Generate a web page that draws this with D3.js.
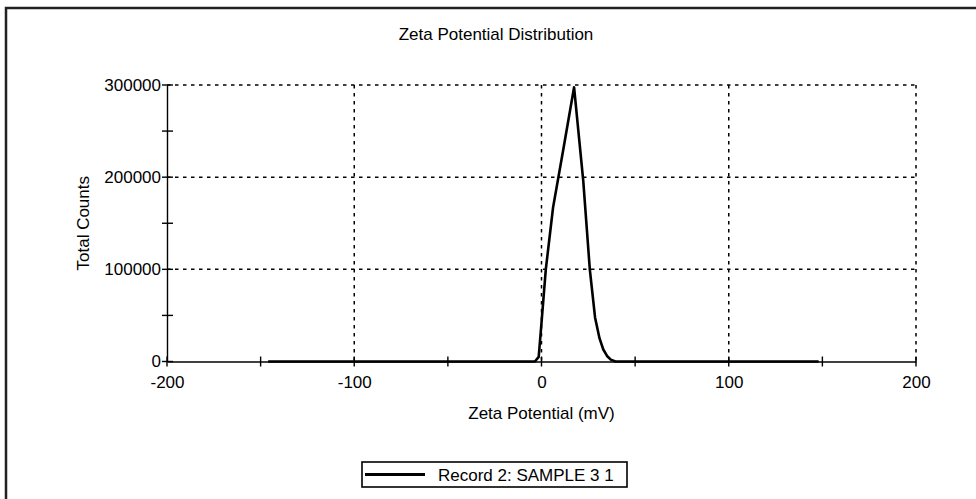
<!DOCTYPE html>
<html>
<head>
<meta charset="utf-8">
<script src="https://cdn.jsdelivr.net/npm/d3@7"></script>
<style>
  body { margin: 0; background: #fff; }
  svg text { font-family: "Liberation Sans", Arial, sans-serif; fill: #000; }
</style>
</head>
<body>
<svg id="chart" width="976" height="499"></svg>
<script>
var title = 'Zeta Potential Distribution';
var xTitle = 'Zeta Potential (mV)';
var yTitle = 'Total Counts';
var seriesName = 'Record 2: SAMPLE 3 1';

var xMajor = [-200, -100, 0, 100, 200];
var xMinor = [-150, -50, 50, 150];
var yMajor = [0, 100000, 200000, 300000];
var yMinor = [50000, 150000, 250000];

// zeta potential (mV) and total counts
var zeta = [-146, -10, -3.5, -1.5, 0, 2.3, 6.2, 11.8, 17.4, 22.3, 25.8, 28.6, 31, 33, 35, 37, 39.5, 60, 148];
var counts = [0, 0, 0, 5000, 42000, 100000, 167400, 232000, 297500, 196000, 100000, 47800, 25000, 13000, 6000, 2000, 0, 0, 0];

(function() {
var svg = d3.select('#chart');
var left = 167, right = 916, top = 85, bottom = 361.5;

var x = d3.scaleLinear().domain([-200, 200]).range([left, right]);
var y = d3.scaleLinear().domain([0, 300000]).range([bottom, top]);

// plain hyphen for negatives, as in the original
var plain = function(d) { return String(d); };

// outer frame, runs off the right and bottom of the picture
svg.append('rect')
    .attr('x', 6).attr('y', 8)
    .attr('width', 1000).attr('height', 520)
    .attr('fill', 'none')
    .attr('stroke', '#222')
    .attr('stroke-width', 2.5);

svg.append('text')
    .attr('x', 496).attr('y', 40)
    .attr('text-anchor', 'middle')
    .style('font-size', '17px')
    .text(title);

// dotted grid
var grid = svg.append('g')
    .attr('stroke', '#000')
    .attr('stroke-width', 1.5)
    .attr('stroke-dasharray', '3.5,4.5');
grid.selectAll('line.h')
    .data(yMajor.filter(function(d) { return d > 0; }))
    .enter().append('line')
    .attr('x1', left).attr('x2', right)
    .attr('y1', function(d) { return y(d); })
    .attr('y2', function(d) { return y(d); });
grid.selectAll('line.v')
    .data(xMajor.filter(function(d) { return d > -200; }))
    .enter().append('line')
    .attr('y1', top).attr('y2', bottom)
    .attr('x1', function(d) { return x(d); })
    .attr('x2', function(d) { return x(d); });

// axes
var xAxis = d3.axisBottom(x).tickValues(xMajor).tickSize(0).tickPadding(14)
    .tickFormat(plain);
var gx = svg.append('g').attr('transform', 'translate(0,' + bottom + ')').call(xAxis);
gx.select('.domain').attr('stroke', '#000').attr('stroke-width', 1.4);
gx.selectAll('text').style('font-size', '17px').style('font-family', '"Liberation Sans", Arial, sans-serif');

var yAxis = d3.axisLeft(y).tickValues(yMajor).tickSize(0).tickPadding(6)
    .tickFormat(plain);
var gy = svg.append('g').attr('transform', 'translate(' + left + ',0)').call(yAxis);
gy.select('.domain').attr('stroke', '#000').attr('stroke-width', 1.4);
gy.selectAll('text').style('font-size', '17px').style('font-family', '"Liberation Sans", Arial, sans-serif');

// crossing tick marks
var ticks = svg.append('g').attr('stroke', '#000').attr('stroke-width', 1.4);
ticks.selectAll('line.xt')
    .data(xMajor.concat(xMinor))
    .enter().append('line')
    .attr('x1', function(d) { return x(d); })
    .attr('x2', function(d) { return x(d); })
    .attr('y1', bottom - 5).attr('y2', bottom + 5);
ticks.selectAll('line.yt')
    .data(yMajor.concat(yMinor))
    .enter().append('line')
    .attr('y1', function(d) { return y(d); })
    .attr('y2', function(d) { return y(d); })
    .attr('x1', left - 5).attr('x2', left + 6);

svg.append('text')
    .attr('x', x(0)).attr('y', 419)
    .attr('text-anchor', 'middle')
    .style('font-size', '17px')
    .text(xTitle);

svg.append('text')
    .attr('transform', 'translate(89,' + (top + bottom) / 2 + ') rotate(-90)')
    .attr('text-anchor', 'middle')
    .style('font-size', '17px')
    .text(yTitle);

// the record
var points = zeta.map(function(d, i) { return [d, counts[i]]; });
var line = d3.line()
    .x(function(d) { return x(d[0]); })
    .y(function(d) { return y(d[1]); });
svg.append('path')
    .datum(points)
    .attr('d', line)
    .attr('fill', 'none')
    .attr('stroke', '#000')
    .attr('stroke-width', 2.6)
    .attr('stroke-linejoin', 'round');

// legend
var legend = svg.append('g').attr('transform', 'translate(362,462)');
legend.append('rect')
    .attr('width', 265).attr('height', 25)
    .attr('fill', '#fff')
    .attr('stroke', '#000')
    .attr('stroke-width', 1.6);
legend.append('line')
    .attr('x1', 3).attr('x2', 63)
    .attr('y1', 12.5).attr('y2', 12.5)
    .attr('stroke', '#000')
    .attr('stroke-width', 3);
legend.append('text')
    .attr('x', 76).attr('y', 19)
    .style('font-size', '17px')
    .text(seriesName);
})();
</script>
</body>
</html>
